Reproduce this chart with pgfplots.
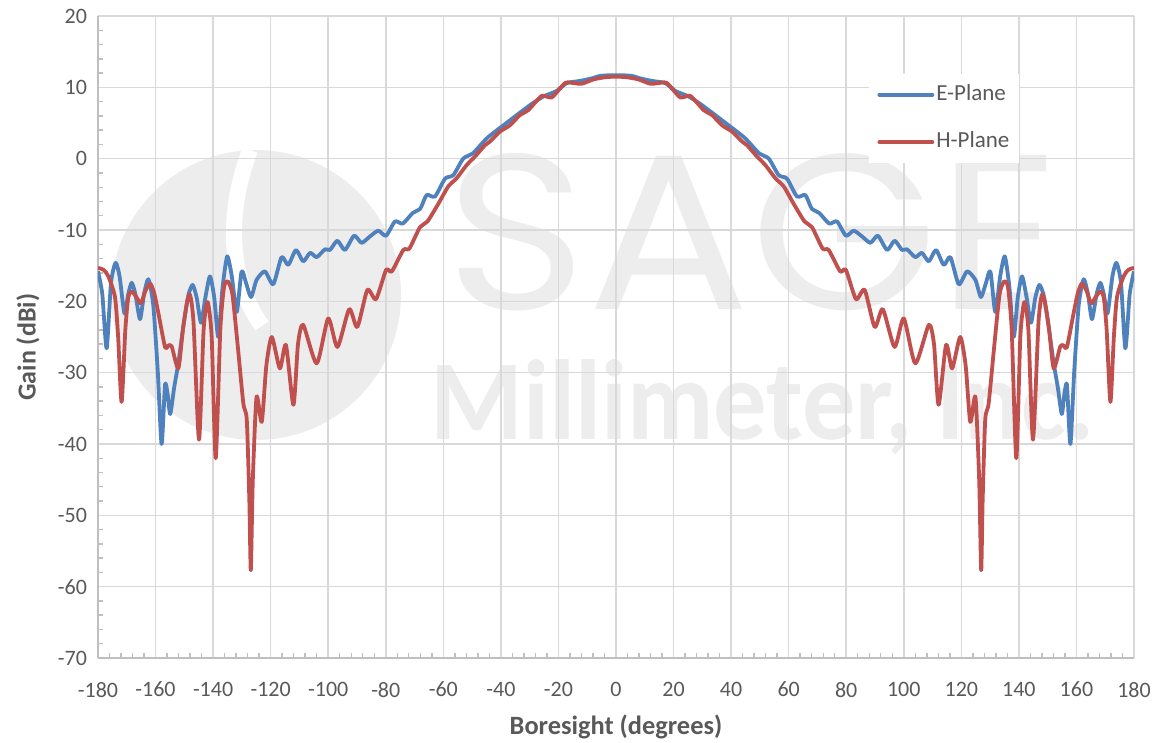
\documentclass[border=0pt]{standalone}
\usepackage{pgfplots}
\pgfplotsset{compat=1.18}
\usepackage{pgfplotstable}
\usepackage{fontspec}
\setmainfont{Carlito}
\newfontfamily\wmfont{Poppins}
\usetikzlibrary{backgrounds}
\definecolor{eblue}{HTML}{4F81BD}
\definecolor{hred}{HTML}{C0504D}
\definecolor{txtgray}{HTML}{595959}
\definecolor{gridgray}{HTML}{D9D9D9}
\definecolor{axgray}{HTML}{BFBFBF}
\definecolor{wmgray}{HTML}{EDEDED}

\pgfplotstableread{
x y
-180 -15.8
-178.5 -19
-177.0 -26.6
-175.5 -17.5
-173.9 -14.6
-172.5 -16.5
-170.8 -21.7
-169.5 -19.0
-168.3 -17.4
-167 -19
-165.4 -22.5
-164 -19
-162.5 -16.9
-160.8 -20.5
-159.2 -30
-157.9 -40.0
-156.7 -31.7
-155.8 -33
-154.9 -35.8
-153.5 -32
-152.1 -28.7
-150 -22.5
-148.5 -19
-147.1 -17.7
-145.7 -19.5
-144.2 -23.0
-142.7 -19.5
-141.1 -16.5
-139.6 -19.5
-138.2 -25.0
-136.7 -18
-135.1 -13.7
-133.5 -16.5
-131.8 -21.5
-130.1 -15.8
-128.5 -17.5
-126.8 -19.4
-124.9 -17.0
-122.0 -15.8
-119.1 -17.6
-116.2 -13.8
-113.9 -14.9
-111.2 -12.8
-108.7 -14.4
-106.3 -13.2
-104.0 -13.8
-101.1 -12.7
-99.4 -12.8
-96.8 -11.5
-94.2 -12.8
-91.0 -10.8
-88.4 -11.8
-85.5 -10.9
-82.6 -10.1
-79.9 -10.8
-76.8 -8.8
-74.1 -9.1
-70.6 -7.6
-68 -7.0
-65.8 -5.1
-62.9 -5.3
-59.4 -2.8
-56.5 -2.3
-53.1 0.0
-49.6 0.8
-44.9 2.85
-39.7 4.5
-34.5 6.1
-29.9 7.5
-25.3 8.7
-20.6 9.5
-17.1 10.6
-12.5 10.9
-8 11.3
-5.6 11.6
-2 11.7
0 11.7
2 11.7
5.6 11.6
8 11.3
12.5 10.9
17.1 10.6
20.6 9.5
25.3 8.7
29.9 7.5
34.5 6.1
39.7 4.5
44.9 2.85
49.6 0.8
53.1 0.0
56.5 -2.3
59.4 -2.8
62.9 -5.3
65.8 -5.1
68 -7.0
70.6 -7.6
74.1 -9.1
76.8 -8.8
79.9 -10.8
82.6 -10.1
85.5 -10.9
88.4 -11.8
91.0 -10.8
94.2 -12.8
96.8 -11.5
99.4 -12.8
101.1 -12.7
104.0 -13.8
106.3 -13.2
108.7 -14.4
111.2 -12.8
113.9 -14.9
116.2 -13.8
119.1 -17.6
122.0 -15.8
124.9 -17.0
126.8 -19.4
128.5 -17.5
130.1 -15.8
131.8 -21.5
133.5 -16.5
135.1 -13.7
136.7 -18
138.2 -25.0
139.6 -19.5
141.1 -16.5
142.7 -19.5
144.2 -23.0
145.7 -19.5
147.1 -17.7
148.5 -19
150 -22.5
152.1 -28.7
153.5 -32
154.9 -35.8
155.8 -33
156.7 -31.7
157.9 -40.0
159.2 -30
160.8 -20.5
162.5 -16.9
164 -19
165.4 -22.5
167 -19
168.3 -17.4
169.5 -19.0
170.8 -21.7
172.5 -16.5
173.9 -14.6
175.5 -17.5
177.0 -26.6
178.5 -19
180 -15.8
}\Eplane

\pgfplotstableread{
x y
-180 -15.3
-178 -15.6
-176.4 -16.5
-174.1 -19.4
-173 -25
-171.8 -34.1
-170.5 -24
-169.5 -19.5
-168.3 -18.6
-166.5 -19.5
-165.1 -20.3
-163.5 -18.5
-161.9 -17.5
-160.5 -18.8
-159.0 -21.7
-156.7 -26.4
-155.5 -26.2
-154.4 -26.3
-152.1 -29.4
-150.5 -24
-149 -20
-148.0 -19.1
-146.8 -23
-144.9 -39.4
-143.3 -24
-141.9 -20.1
-140.5 -25
-139.1 -42.0
-137.5 -24
-136.2 -18
-134.9 -17.2
-133.3 -19
-131.5 -26
-129.5 -34.3
-128.3 -36.6
-127.4 -48
-126.9 -57.7
-126.2 -45
-124.9 -33.4
-123.1 -36.9
-121.5 -29
-119.6 -25.0
-116.8 -29.4
-114.7 -26.1
-112.1 -34.5
-110.5 -26
-108.7 -23.3
-104.0 -28.7
-100.0 -22.4
-96.8 -26.4
-92.7 -21.1
-89.9 -23.6
-86.4 -18.4
-83.4 -19.7
-79.9 -15.6
-77.9 -15.8
-73.9 -12.8
-71.8 -12.6
-68.1 -9.6
-65.5 -8.8
-61.7 -6.3
-58.3 -3.9
-55.4 -2.75
-51.9 -0.9
-49.0 0.3
-45.5 1.9
-43.8 2.4
-40.3 3.8
-36.8 4.7
-33.4 6.1
-30.5 6.8
-25.8 8.8
-22.3 8.6
-17.7 10.6
-14.8 10.6
-11.9 10.5
-7.9 11.1
-4 11.4
0 11.5
4 11.4
7.9 11.1
11.9 10.5
14.8 10.6
17.7 10.6
22.3 8.6
25.8 8.8
30.5 6.8
33.4 6.1
36.8 4.7
40.3 3.8
43.8 2.4
45.5 1.9
49.0 0.3
51.9 -0.9
55.4 -2.75
58.3 -3.9
61.7 -6.3
65.5 -8.8
68.1 -9.6
71.8 -12.6
73.9 -12.8
77.9 -15.8
79.9 -15.6
83.4 -19.7
86.4 -18.4
89.9 -23.6
92.7 -21.1
96.8 -26.4
100.0 -22.4
104.0 -28.7
108.7 -23.3
110.5 -26
112.1 -34.5
114.7 -26.1
116.8 -29.4
119.6 -25.0
121.5 -29
123.1 -36.9
124.9 -33.4
126.2 -45
126.9 -57.7
127.4 -48
128.3 -36.6
129.5 -34.3
131.5 -26
133.3 -19
134.9 -17.2
136.2 -18
137.5 -24
139.1 -42.0
140.5 -25
141.9 -20.1
143.3 -24
144.9 -39.4
146.8 -23
148.0 -19.1
149 -20
150.5 -24
152.1 -29.4
154.4 -26.3
155.5 -26.2
156.7 -26.4
159.0 -21.7
160.5 -18.8
161.9 -17.5
163.5 -18.5
165.1 -20.3
166.5 -19.5
168.3 -18.6
169.5 -19.5
170.5 -24
171.8 -34.1
173 -25
174.1 -19.4
176.4 -16.5
178 -15.6
180 -15.3
}\Hplane

\begin{document}
\begin{tikzpicture}
\begin{axis}[
  name=ax,
  at={(0,0)}, anchor=south west,
  scale only axis,
  width=518pt, height=321pt,
  xmin=-180, xmax=180, ymin=-70, ymax=20,
  xtick={-180,-160,...,180},
  xticklabels={{-180},{-160},{-140},{-120},{-100},{-80},{-60},{-40},{-20},{0},{20},{40},{60},{80},{100},{120},{140},{160},{180}},
  ytick={-70,-60,...,20},
  yticklabels={{-70},{-60},{-50},{-40},{-30},{-20},{-10},{0},{10},{20}},
  minor x tick num=4, minor y tick num=4,
  axis x line*=bottom, axis y line*=left,
  axis line style={draw=axgray, line width=0.9pt, -},
  grid=major,
  major grid style={draw=gridgray, line width=0.75pt},
  tick align=inside,
  major tick length=0pt,
  minor tick length=2.6pt,
  tick style={draw=axgray, line width=0.7pt},
  ticklabel style={font=\fontsize{11}{13}\selectfont, text=txtgray},
  xticklabel style={yshift=-8.5pt},
  yticklabel style={xshift=-2pt},
  xlabel={Boresight (degrees)},
  ylabel={Gain (dBi)},
  every axis x label/.style={at={(axis description cs:0.5,-0.1075)}, anchor=center, font=\bfseries\fontsize{13.2}{15}\selectfont, text=txtgray},
  every axis y label/.style={at={(axis description cs:-0.0676,0.484)}, anchor=center, rotate=90, font=\bfseries\fontsize{13}{15}\selectfont, text=txtgray},
  legend style={at={(0.752,0.8405)}, anchor=west, xshift=-4pt, fill=white, draw=none,
     inner xsep=4pt, inner ysep=4pt,
     nodes={inner sep=1pt, text height=8pt, text depth=2.5pt, font=\fontsize{11.5}{13}\selectfont, text=txtgray},
     row sep=11.2pt},
  legend cell align=left,
  legend image code/.code={\draw[#1, line width=1.9pt, line cap=round] (0pt,0pt) -- (26.5pt,0pt);},
]
\addplot[eblue, line width=1.9pt, smooth, tension=0.4, line join=round] table[x=x,y=y]{\Eplane};
\addlegendentry{E-Plane}
\addplot[hred, line width=1.9pt, smooth, tension=0.4, line join=round] table[x=x,y=y]{\Hplane};
\addlegendentry{H-Plane}
\end{axis}
\begin{scope}[on background layer]
  % watermark logo (approximate)
  \fill[wmgray] (79pt,181.5pt) circle (72.5pt);
  \draw[white, line width=8pt] (76pt,254pt) .. controls (64pt,222pt) and (65pt,190pt) .. (82pt,166pt);
  \node[text=wmgray, inner sep=0pt, anchor=base west] at (173.5pt,174pt) {\resizebox{308pt}{78pt}{\wmfont SAGE}};
  \node[text=wmgray, inner sep=0pt, anchor=base west] at (166pt,109pt) {\resizebox{332pt}{40pt}{\bfseries Millimeter, Inc.}};
\end{scope}
\pgfresetboundingbox
\useasboundingbox (-49pt,-42.5pt) rectangle (530pt,329pt);
\end{tikzpicture}
\end{document}
